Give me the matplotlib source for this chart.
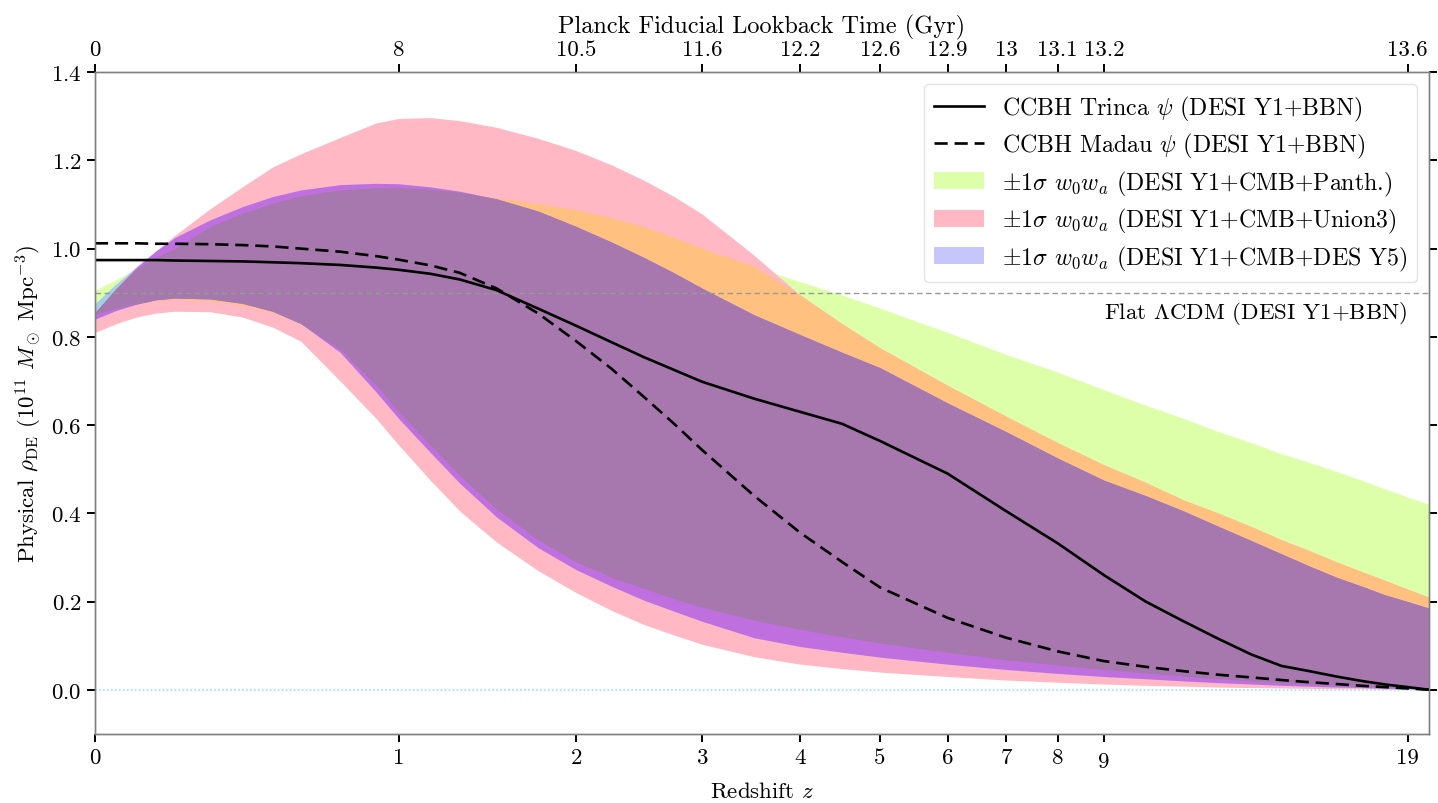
import numpy as np
import matplotlib
matplotlib.use('Agg')
import matplotlib.pyplot as plt
from matplotlib.lines import Line2D
from matplotlib.patches import Patch
from matplotlib.ticker import NullLocator

plt.rcParams['font.family'] = 'serif'
plt.rcParams['font.serif'] = ['cmr10', 'DejaVu Serif']
plt.rcParams['mathtext.fontset'] = 'cm'
plt.rcParams['axes.formatter.use_mathtext'] = True
plt.rcParams['font.size'] = 16.5

# redshift samples
z = np.array([0, 0.05, 0.1, 0.15, 0.2, 0.3, 0.4, 0.5, 0.6, 0.75, 0.9, 1, 1.15, 1.3,
              1.5, 1.75, 2, 2.25, 2.5, 2.75, 3, 3.5, 4, 4.5, 5, 6, 7, 8, 9, 10,
              11, 12, 13, 14, 15, 16, 17, 18, 19, 20])

# CCBH predictions (1e11 Msun / Mpc^3)
trinca = np.array([0.974, 0.974, 0.974, 0.974, 0.973, 0.972, 0.971, 0.969, 0.967, 0.963,
                   0.957, 0.952, 0.943, 0.93, 0.906, 0.864, 0.825, 0.788, 0.754, 0.725,
                   0.698, 0.66, 0.63, 0.603, 0.564, 0.49, 0.405, 0.332, 0.26, 0.2,
                   0.155, 0.115, 0.08, 0.054, 0.042, 0.03, 0.02, 0.012, 0.006, 0.0])
madau = np.array([1.012, 1.012, 1.012, 1.011, 1.011, 1.01, 1.008, 1.005, 1.0, 0.993,
                  0.983, 0.975, 0.962, 0.945, 0.91, 0.853, 0.79, 0.728, 0.664, 0.603,
                  0.543, 0.44, 0.356, 0.29, 0.232, 0.163, 0.118, 0.087, 0.065, 0.052,
                  0.042, 0.034, 0.028, 0.022, 0.017, 0.013, 0.009, 0.006, 0.003, 0.0])

# +/-1 sigma w0wa bands
panth_lo = np.array([0.85, 0.865, 0.875, 0.882, 0.885, 0.882, 0.872, 0.855, 0.83, 0.772,
                     0.69, 0.63, 0.555, 0.485, 0.41, 0.34, 0.29, 0.255, 0.23, 0.206,
                     0.187, 0.158, 0.137, 0.12, 0.106, 0.085, 0.068, 0.056, 0.046, 0.038,
                     0.031, 0.025, 0.02, 0.016, 0.013, 0.01, 0.008, 0.006, 0.004, 0.003])
panth_hi = np.array([0.905, 0.93, 0.955, 0.98, 1.0, 1.05, 1.08, 1.103, 1.12, 1.133,
                     1.138, 1.138, 1.135, 1.128, 1.115, 1.102, 1.088, 1.07, 1.05, 1.025,
                     1.0, 0.96, 0.925, 0.895, 0.865, 0.81, 0.76, 0.72, 0.68, 0.645,
                     0.615, 0.585, 0.56, 0.535, 0.515, 0.495, 0.475, 0.455, 0.437, 0.42])
union_lo = np.array([0.81, 0.83, 0.845, 0.854, 0.858, 0.857, 0.845, 0.822, 0.79, 0.70,
                     0.615, 0.555, 0.475, 0.405, 0.335, 0.27, 0.22, 0.18, 0.148, 0.124,
                     0.103, 0.075, 0.058, 0.048, 0.04, 0.03, 0.022, 0.017, 0.013, 0.01,
                     0.008, 0.006, 0.005, 0.004, 0.003, 0.002, 0.002, 0.001, 0.001, 0.0])
union_hi = np.array([0.855, 0.91, 0.958, 0.995, 1.03, 1.09, 1.14, 1.185, 1.215, 1.252,
                     1.285, 1.295, 1.297, 1.29, 1.275, 1.25, 1.222, 1.19, 1.155, 1.118,
                     1.078, 0.985, 0.895, 0.83, 0.775, 0.69, 0.62, 0.56, 0.51, 0.47,
                     0.43, 0.40, 0.37, 0.34, 0.315, 0.29, 0.268, 0.248, 0.228, 0.21])
desy5_lo = np.array([0.84, 0.86, 0.874, 0.884, 0.888, 0.886, 0.876, 0.858, 0.83, 0.765,
                     0.675, 0.615, 0.538, 0.468, 0.392, 0.322, 0.272, 0.235, 0.203, 0.178,
                     0.155, 0.118, 0.098, 0.085, 0.074, 0.058, 0.046, 0.037, 0.03, 0.025,
                     0.02, 0.016, 0.013, 0.01, 0.008, 0.006, 0.005, 0.003, 0.002, 0.001])
desy5_hi = np.array([0.875, 0.92, 0.96, 0.995, 1.025, 1.065, 1.095, 1.118, 1.133, 1.145,
                     1.148, 1.147, 1.14, 1.13, 1.113, 1.085, 1.05, 1.015, 0.98, 0.945,
                     0.91, 0.85, 0.805, 0.765, 0.73, 0.65, 0.585, 0.525, 0.475, 0.44,
                     0.405, 0.37, 0.338, 0.308, 0.28, 0.255, 0.235, 0.215, 0.2, 0.185])

lcdm_level = 0.9

z_ticks = [0, 1, 2, 3, 4, 5, 6, 7, 8, 9, 19]
lookback_labels = ['0', '8', '10.5', '11.6', '12.2', '12.6', '12.9', '13', '13.1', '13.2', '13.6']

c_panth = '#ddffaa'
c_union = '#ffb8c4'
c_desy5 = '#c6c6fb'
c_panth_union = '#ffc080'
c_panth_desy5 = '#9fd0e4'
c_union_desy5 = '#bf70de'
c_all = '#a678ad'

fig = plt.figure(figsize=(14.38, 8.04), dpi=100)
ax = fig.add_axes([0.066, 0.086, 0.9277, 0.823])
ax.set_xscale('function', functions=(np.log1p, np.expm1))


def band(lo, hi, color):
    ax.fill_between(z, lo, hi, where=lo < hi, interpolate=True,
                    color=color, lw=0, zorder=1)


# single bands, then pairwise and triple overlaps on top
band(panth_lo, panth_hi, c_panth)
band(union_lo, union_hi, c_union)
band(desy5_lo, desy5_hi, c_desy5)
band(np.maximum(panth_lo, union_lo), np.minimum(panth_hi, union_hi), c_panth_union)
band(np.maximum(panth_lo, desy5_lo), np.minimum(panth_hi, desy5_hi), c_panth_desy5)
band(np.maximum(union_lo, desy5_lo), np.minimum(union_hi, desy5_hi), c_union_desy5)
band(np.maximum(np.maximum(panth_lo, union_lo), desy5_lo),
     np.minimum(np.minimum(panth_hi, union_hi), desy5_hi), c_all)

ax.axhline(lcdm_level, color='#999999', lw=1.0, ls=(0, (4, 2.5)), zorder=2)
ax.axhline(0.0, color='#a6e6f2', lw=1.3, ls=(0, (1, 1.2)), zorder=2)
ax.text(0.9835, lcdm_level - 0.014, r'Flat $\Lambda$CDM (DESI Y1+BBN)',
        transform=ax.get_yaxis_transform(), ha='right', va='top')

ax.plot(z, trinca, color='black', lw=1.9, zorder=3)
ax.plot(z, madau, color='black', lw=1.9, dashes=(5, 2.6), zorder=3)

ax.set_xlim(0, 20)
ax.set_ylim(-0.1, 1.4)
ax.set_xticks(z_ticks)
ax.set_xticklabels([str(t) for t in z_ticks])
ax.set_yticks(np.arange(0, 1.41, 0.2))
ax.set_xlabel(r'Redshift $z$', labelpad=7)
ax.set_ylabel(r'Physical $\rho_{\rm DE}$ ($10^{11}$ $M_\odot$ Mpc$^{-3}$)', labelpad=5)
ax.tick_params(direction='out', length=6, width=1.4, right=True)
ax.xaxis.set_minor_locator(NullLocator())
# the z = 9 label sits a little lower
ax.xaxis.get_major_ticks()[9].set_pad(7)

ax2 = ax.twiny()
ax2.set_xscale('function', functions=(np.log1p, np.expm1))
ax2.set_xlim(0, 20)
ax2.set_xticks(z_ticks)
ax2.set_xticklabels(lookback_labels)
ax2.xaxis.set_minor_locator(NullLocator())
ax2.tick_params(direction='out', length=6, width=1.4)
ax2.set_xlabel('Planck Fiducial Lookback Time (Gyr)', labelpad=5, fontsize=17.5)

for a in (ax, ax2):
    for s in a.spines.values():
        s.set_color('#808080')
        s.set_linewidth(1.0)

handles = [
    Line2D([], [], color='black', lw=1.9),
    Line2D([], [], color='black', lw=1.9, dashes=(5, 2.6)),
    Patch(facecolor=c_panth, edgecolor='none'),
    Patch(facecolor=c_union, edgecolor='none'),
    Patch(facecolor=c_desy5, edgecolor='none'),
]
labels = [
    r'CCBH Trinca $\psi$ (DESI Y1+BBN)',
    r'CCBH Madau $\psi$ (DESI Y1+BBN)',
    r'$\pm1\sigma$ $w_0w_a$ (DESI Y1+CMB+Panth.)',
    r'$\pm1\sigma$ $w_0w_a$ (DESI Y1+CMB+Union3)',
    r'$\pm1\sigma$ $w_0w_a$ (DESI Y1+CMB+DES Y5)',
]
ax.legend(handles, labels, loc='upper right', frameon=True, framealpha=0.9,
          edgecolor='#e0e0e0', fontsize=17.2, handlelength=2.1, handletextpad=0.75,
          labelspacing=0.35, borderaxespad=0.5)

fig.savefig('out.png', dpi=100)
